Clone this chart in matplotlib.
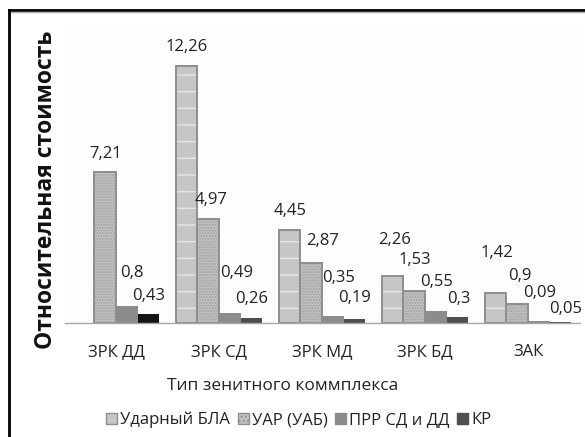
import numpy as np
import matplotlib.pyplot as plt
from matplotlib.lines import Line2D
from matplotlib.patches import Patch

plt.rcParams['font.family'] = ['Open Sans', 'DejaVu Sans']
plt.rcParams['hatch.linewidth'] = 1.0

categories = ["ЗРК ДД", "ЗРК СД", "ЗРК МД", "ЗРК БД", "ЗАК"]
series_names = ["Ударный БЛА", "УАР (УАБ)", "ПРР СД и ДД", "КР"]

bla = [np.nan, 12.26, 4.45, 2.26, 1.42]
uar = [7.21, 4.97, 2.87, 1.53, 0.90]
prr = [0.80, 0.49, 0.35, 0.55, 0.09]
kr = [0.43, 0.26, 0.19, 0.30, 0.05]
values = [bla, uar, prr, kr]

# label nudges in pixels (dx, dy above bar top), per series and group
label_dx = [[0, 0, 1, 2, 1],
            [0, 3, 11, 1, 3],
            [5, 7, 6, 1, 1],
            [0, 0, 0, 1, 5]]
label_dy = [[19, 19, 19, 36, 40],
            [18, 19, 22, 31, 28],
            [33, 40, 38, 29, 28],
            [18, 19, 21, 18, 13]]

faces = ["#c6c6c6", "#c2c2c2", "#8c8c8c", "#4f4f4f"]
edges = ["#8e8e8e", "#8e8e8e", "#8c8c8c", "#4f4f4f"]
hatches = ["-", "......", None, None]
hatch_cols = ["#e6e6e6", "#a2a2a2", None, None]

fig = plt.figure(figsize=(5.85, 4.37), dpi=100)
fig.patch.set_facecolor("white")
ax = fig.add_axes([64.5 / 585, 1 - 323 / 437, 515 / 585, 293.4 / 437])
ax.set_facecolor("#fdfdfd")

x = np.arange(len(categories))
w = 0.21

for i, vals in enumerate(values):
    pos = x + (i - 1.5) * w
    h = np.array(vals, dtype=float)
    ok = ~np.isnan(h)
    if hatches[i]:
        ax.bar(pos[ok], h[ok], w, color=faces[i], edgecolor=hatch_cols[i],
               hatch=hatches[i], linewidth=0)
        ax.bar(pos[ok], h[ok], w, color="none", edgecolor=edges[i], linewidth=1.4)
    else:
        cols = [faces[i]] * len(h)
        if i == 3:
            cols[0] = "#141414"
        ax.bar(pos[ok], h[ok], w, color=np.array(cols)[ok], linewidth=0)
    for j in range(len(h)):
        if np.isnan(h[j]):
            continue
        txt = f"{h[j]:g}".replace(".", ",")
        ax.annotate(txt, (pos[j], h[j]),
                    xytext=(label_dx[i][j] * 0.72, label_dy[i][j] * 0.72),
                    textcoords="offset points", ha="center", va="center",
                    fontsize=12, color="#222222")

ax.set_xlim(-0.5, 4.5)
ax.set_ylim(0, 14)
ax.set_yticks([])
ax.set_xticks(x)
ax.set_xticklabels(categories, fontsize=12, color="#222222")
ax.tick_params(axis="x", length=0, pad=15)
for s in ["top", "right", "left"]:
    ax.spines[s].set_visible(False)
ax.spines["bottom"].set_color("#a8a8a8")
ax.spines["bottom"].set_linewidth(1.0)

fig.text(283 / 585, 1 - 386 / 437, "Тип зенитного коммплекса", ha="center",
         va="center", fontsize=12.5, color="#222222")
fig.text(46 / 585, 1 - 190 / 437, "Относительная стоимость", rotation=90,
         ha="center", va="center", fontsize=16.5, fontweight="bold", color="#111111")

handles = [Patch(facecolor=faces[i], edgecolor=edges[i],
                 hatch=None if i != 1 else "....") for i in range(4)]
fig.legend(handles, series_names, loc="center", bbox_to_anchor=(299 / 585, 1 - 420 / 437),
           ncol=4, frameon=False, fontsize=12, handlelength=0.65, handleheight=0.65,
           handletextpad=0.2, columnspacing=0.45, labelcolor="#222222")

# outer chart frame
fig.add_artist(Line2D([9 / 585, 1], [1 - 10 / 437] * 2, color="black", lw=2))
fig.add_artist(Line2D([9 / 585, 1], [1 - 12 / 437] * 2, color="#aaaaaa", lw=1))
fig.add_artist(Line2D([9 / 585] * 2, [0, 1 - 10 / 437], color="black", lw=2))

fig.savefig("out.png", dpi=100)
